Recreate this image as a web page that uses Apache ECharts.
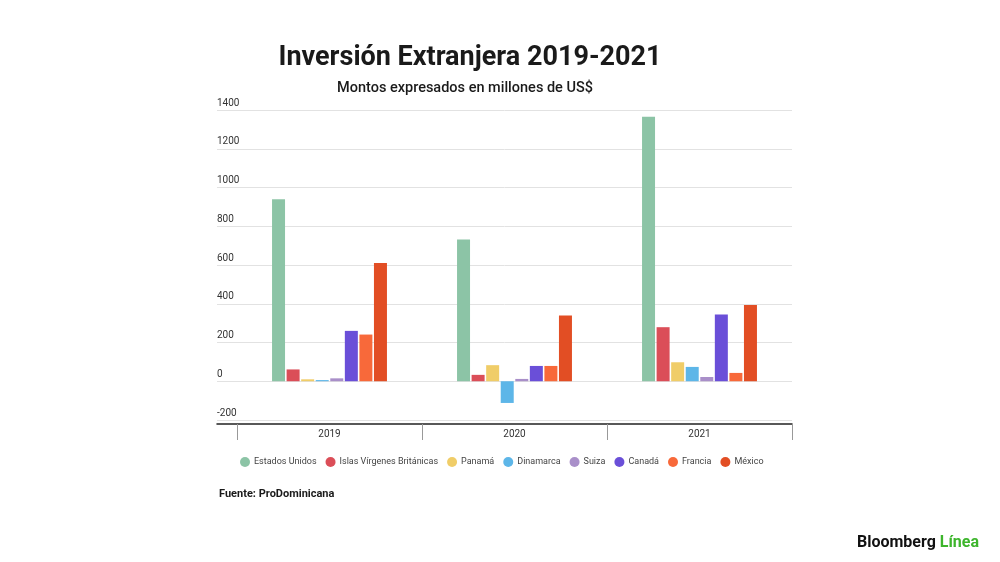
<!DOCTYPE html>
<html style="height: 100%">
<head>
<meta charset="utf-8">
<script src="https://cdn.jsdelivr.net/npm/echarts@6/dist/echarts.min.js"></script>
</head>
<body style="height: 100%; margin: 0; background: #fff">
<div id="container" style="width: 1000px; height: 562px"></div>
<script type="text/javascript">
// datos (millones de US$)
var years = ['2019', '2020', '2021'];
var countries = ['Estados Unidos', 'Islas Vírgenes Británicas', 'Panamá', 'Dinamarca', 'Suiza', 'Canadá', 'Francia', 'México'];
var estadosUnidos = [940, 732, 1365];
var islasVirgenes = [61, 33, 279];
var panama = [10, 83, 98];
var dinamarca = [6, -112, 74];
var suiza = [15, 12, 22];
var canada = [260, 79, 345];
var francia = [241, 79, 43];
var mexico = [610, 340, 393];
var colors = ['#8cc4a6', '#db4e58', '#f0cd68', '#5db6e8', '#a98fc9', '#6a4fd8', '#f8693a', '#e24e24'];
var yTicks = { min: -200, max: 1400, interval: 200 };

var allValues = [estadosUnidos, islasVirgenes, panama, dinamarca, suiza, canada, francia, mexico];

var myChart = echarts.init(document.getElementById('container'));

var series = countries.map(function (name, i) {
    return {
        name: name,
        type: 'bar',
        xAxisIndex: 1,
        yAxisIndex: 1,
        data: allValues[i],
        barWidth: 13,
        barGap: '12%',
        itemStyle: { color: colors[i] }
    };
});

var option = {
    backgroundColor: '#fff',
    animation: false,
    color: colors,
    title: [{
        text: 'Inversión Extranjera 2019-2021',
        left: 470,
        top: 45,
        padding: 0,
        textAlign: 'center',
        textStyle: { fontFamily: 'Roboto', fontSize: 27, fontWeight: 'bold', color: '#1a1a1a' }
    }, {
        text: 'Montos expresados en millones de US$',
        left: 465,
        top: 81,
        padding: 0,
        textAlign: 'center',
        textStyle: { fontFamily: 'Roboto', fontSize: 14.5, fontWeight: 500, color: '#1a1a1a' }
    }, {
        text: 'Fuente: ProDominicana',
        left: 219,
        top: 489,
        padding: 0,
        textStyle: { fontFamily: 'Roboto', fontSize: 11, fontWeight: 'bold', color: '#1a1a1a' }
    }, {
        text: 'Bloomberg {g|Línea}',
        left: 857,
        top: 535,
        padding: 0,
        textStyle: {
            fontFamily: 'Roboto', fontSize: 16, fontWeight: 'bold', color: '#111',
            rich: { g: { fontFamily: 'Roboto', fontSize: 16, fontWeight: 'bold', color: '#3db52c' } }
        }
    }],
    legend: {
        data: countries,
        left: 240,
        top: 457,
        padding: 0,
        icon: 'circle',
        itemWidth: 10,
        itemHeight: 10,
        itemGap: 9,
        textStyle: { fontFamily: 'Roboto', fontSize: 9, color: '#444', padding: [0, 0, 0, -1] }
    },
    grid: [
        { left: 217, right: 208, top: 110, bottom: 142 },
        { left: 237, right: 208, top: 110, bottom: 142 }
    ],
    xAxis: [{
        type: 'category',
        gridIndex: 0,
        data: years,
        offset: 4,
        axisLine: { onZero: false, lineStyle: { color: '#222', width: 1.5 } },
        axisTick: { show: false },
        axisLabel: { show: false }
    }, {
        type: 'category',
        gridIndex: 1,
        data: years,
        offset: 4,
        axisLine: { show: false, onZero: false },
        axisTick: { show: true, length: 16, lineStyle: { color: '#999' } },
        axisLabel: { margin: 5, fontFamily: 'Roboto', fontSize: 10, color: '#333' }
    }],
    yAxis: [{
        type: 'value',
        gridIndex: 0,
        min: yTicks.min,
        max: yTicks.max,
        interval: yTicks.interval,
        axisLine: { show: false },
        axisTick: { show: false },
        splitLine: { lineStyle: { color: '#e2e2e2' } },
        axisLabel: {
            inside: true,
            margin: 0,
            verticalAlign: 'bottom',
            padding: [0, 0, 2, 0],
            fontFamily: 'Roboto',
            fontSize: 10,
            color: '#333',
            formatter: function (v) { return String(v); }
        }
    }, {
        type: 'value',
        gridIndex: 1,
        min: yTicks.min,
        max: yTicks.max,
        interval: yTicks.interval,
        show: false,
        splitLine: { show: false }
    }],
    series: series
};

myChart.setOption(option);
</script>
</body>
</html>
